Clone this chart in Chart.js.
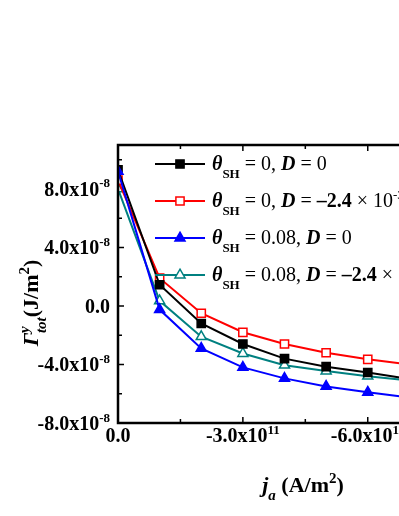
<!DOCTYPE html>
<html>
<head>
<meta charset="utf-8">
<script src="https://cdn.jsdelivr.net/npm/chart.js@4.4.1/dist/chart.umd.min.js"></script>
<style>
  html, body { margin: 0; padding: 0; background: #fff; overflow: hidden; }
  #wrap { position: absolute; left: 0; top: 0; width: 480px; height: 516px; }
</style>
</head>
<body>
<div id="wrap"><canvas id="chart" width="480" height="516"></canvas></div>
<script>
// current density j_a (A/m^2)
const currents = [0, -1e11, -2e11, -3e11, -4e11, -5e11, -6e11, -7e11];
// total torque Gamma^y_tot (J/m^2)
const torqueNoSHNoD   = [9.3e-8, 1.45e-8, -1.2e-8, -2.6e-8, -3.6e-8, -4.15e-8, -4.55e-8, -5.0e-8];
const torqueNoSHWithD = [8.6e-8, 1.9e-8, -0.5e-8, -1.8e-8, -2.6e-8, -3.2e-8, -3.65e-8, -4.0e-8];
const torqueSHNoD     = [9.2e-8, -0.25e-8, -2.9e-8, -4.2e-8, -4.95e-8, -5.5e-8, -5.9e-8, -6.25e-8];
const torqueSHWithD   = [8.0e-8, 0.35e-8, -2.1e-8, -3.25e-8, -4.05e-8, -4.45e-8, -4.8e-8, -5.1e-8];

const xTickValues = [0, -3e11, -6e11];
const xTickLabels = ['0.0', '-3.0x10^11', '-6.0x10^11'];
const xMinorTicks = [-1.5e11, -4.5e11, -7.5e11];
const yTickValues = [8e-8, 4e-8, 0, -4e-8, -8e-8];
const yTickLabels = ['8.0x10^-8', '4.0x10^-8', '0.0', '-4.0x10^-8', '-8.0x10^-8'];
const yMinorTicks = [1e-7, 6e-8, 2e-8, -2e-8, -6e-8];

// rich text pieces: [text, style]
const legendLabels = [
  [['θ', 'bi'], ['SH', 'sub'], [' = 0, ', 'r'], ['D', 'bi'], [' = 0', 'r']],
  [['θ', 'bi'], ['SH', 'sub'], [' = 0, ', 'r'], ['D', 'bi'], [' = ', 'r'], ['–2.4', 'b'], [' × 10', 'r'], ['-3', 'sup']],
  [['θ', 'bi'], ['SH', 'sub'], [' = 0.08, ', 'r'], ['D', 'bi'], [' = 0', 'r']],
  [['θ', 'bi'], ['SH', 'sub'], [' = 0.08, ', 'r'], ['D', 'bi'], [' = ', 'r'], ['–2.4', 'b'], [' × 10', 'r'], ['-3', 'sup']]
];
const xTitle = [['j', 'bi'], ['a', 'subi'], [' (A/m', 'b'], ['2', 'supb'], [')', 'b']];
const yTitle = [['Γ', 'bi'], ['y', 'supi0'], ['tot', 'subi'], ['(J/m', 'b'], ['2', 'supb'], [')', 'b']];

const FAMILY = '"Liberation Serif", "Times New Roman", serif';

function styleFor(kind, size) {
  const small = Math.round(size * 0.66);
  switch (kind) {
    case 'r': return { font: `${size}px ${FAMILY}`, dy: 0 };
    case 'b': return { font: `bold ${size}px ${FAMILY}`, dy: 0 };
    case 'bi': return { font: `italic bold ${size}px ${FAMILY}`, dy: 0 };
    case 'sub': return { font: `bold ${small}px ${FAMILY}`, dy: size * 0.38 };
    case 'subi': return { font: `italic bold ${small}px ${FAMILY}`, dy: size * 0.36 };
    case 'sup': return { font: `${small}px ${FAMILY}`, dy: -size * 0.42 };
    case 'supb': return { font: `bold ${small}px ${FAMILY}`, dy: -size * 0.42 };
    case 'supi0': return { font: `italic bold ${small}px ${FAMILY}`, dy: -size * 0.42, noAdvance: true };
  }
  return { font: `${size}px ${FAMILY}`, dy: 0 };
}

function drawRich(ctx, parts, x, y, align, size) {
  let total = 0;
  const measured = parts.map(([t, kind]) => {
    const st = styleFor(kind, size);
    ctx.font = st.font;
    const w = ctx.measureText(t).width;
    total += st.noAdvance ? 0 : w;
    return { t, st, w };
  });
  let cx = x;
  if (align === 'center') cx = x - total / 2;
  if (align === 'right') cx = x - total;
  ctx.textAlign = 'left';
  ctx.textBaseline = 'alphabetic';
  measured.forEach(m => {
    ctx.font = m.st.font;
    ctx.fillText(m.t, cx, y + m.st.dy);
    if (!m.st.noAdvance) cx += m.w;
  });
}

function tickParts(label) {
  const i = label.indexOf('^');
  if (i < 0) return [[label, 'b']];
  return [[label.slice(0, i), 'b'], [label.slice(i + 1), 'supb']];
}

function drawMarker(ctx, ds, x, y) {
  const r = ds.pointRadius;
  ctx.save();
  ctx.beginPath();
  if (ds.pointStyle === 'rect') {
    const s = r * Math.SQRT1_2;
    ctx.rect(x - s, y - s, 2 * s, 2 * s);
  } else {
    ctx.moveTo(x, y - r);
    ctx.lineTo(x + r * 0.866, y + r * 0.5);
    ctx.lineTo(x - r * 0.866, y + r * 0.5);
    ctx.closePath();
  }
  ctx.fillStyle = ds.pointBackgroundColor;
  ctx.fill();
  ctx.lineWidth = ds.pointBorderWidth;
  ctx.strokeStyle = ds.borderColor;
  ctx.stroke();
  ctx.restore();
}

const framePlugin = {
  id: 'frame',
  beforeDatasetsDraw(chart) {
    const { ctx, chartArea: a, scales: { x, y } } = chart;
    ctx.save();
    ctx.strokeStyle = '#000';
    ctx.lineWidth = 1.5;
    ctx.beginPath();
    xTickValues.concat(xMinorTicks).forEach((v, i) => {
      const len = i < xTickValues.length ? 6 : 4;
      const px = x.getPixelForValue(v);
      ctx.moveTo(px, a.bottom); ctx.lineTo(px, a.bottom - len);
      ctx.moveTo(px, a.top); ctx.lineTo(px, a.top + len);
    });
    yTickValues.concat(yMinorTicks).forEach((v, i) => {
      const len = i < yTickValues.length ? 6 : 4;
      const py = y.getPixelForValue(v);
      ctx.moveTo(a.left, py); ctx.lineTo(a.left + len, py);
      ctx.moveTo(a.right, py); ctx.lineTo(a.right - len, py);
    });
    ctx.stroke();
    ctx.restore();
  },
  afterDatasetsDraw(chart) {
    const { ctx, chartArea: a } = chart;
    ctx.save();
    ctx.strokeStyle = '#000';
    ctx.lineWidth = 2.5;
    ctx.strokeRect(a.left, a.top, a.right - a.left, a.bottom - a.top);
    ctx.restore();
  },
  afterDraw(chart) {
    const { ctx, chartArea: a, scales: { x, y } } = chart;
    ctx.save();
    ctx.fillStyle = '#000';
    xTickValues.forEach((v, i) => {
      drawRich(ctx, tickParts(xTickLabels[i]), x.getPixelForValue(v), a.bottom + 19, 'center', 20);
    });
    yTickValues.forEach((v, i) => {
      drawRich(ctx, tickParts(yTickLabels[i]), a.left - 8, y.getPixelForValue(v) + 7, 'right', 20);
    });
    drawRich(ctx, xTitle, a.left + 185, a.bottom + 69, 'center', 22);
    ctx.save();
    ctx.translate(38, a.top + 158);
    ctx.rotate(-Math.PI / 2);
    drawRich(ctx, yTitle, 0, 0, 'center', 22);
    ctx.restore();

    // legend
    const lx = a.left + 37, ly = a.top + 19, rowH = 37;
    chart.data.datasets.forEach((ds, i) => {
      const cy = ly + i * rowH;
      ctx.save();
      ctx.strokeStyle = ds.borderColor;
      ctx.lineWidth = ds.borderWidth;
      ctx.beginPath();
      ctx.moveTo(lx, cy); ctx.lineTo(lx + 50, cy);
      ctx.stroke();
      ctx.restore();
      drawMarker(ctx, ds, lx + 25, cy);
      ctx.fillStyle = '#000';
      drawRich(ctx, legendLabels[i], lx + 57, cy + 6, 'left', 20);
    });
    ctx.restore();
  }
};

function makeSet(values, color, style, fill, order) {
  return {
    data: currents.map((c, i) => ({ x: c, y: values[i] })),
    borderColor: color,
    borderWidth: 2,
    pointStyle: style,
    pointRadius: 5.8,
    pointHoverRadius: 5.8,
    pointBorderWidth: 1.5,
    pointBackgroundColor: fill,
    pointBorderColor: color,
    tension: 0,
    order: order,
    clip: { left: 0, top: 10, right: 10, bottom: 10 }
  };
}

new Chart(document.getElementById('chart'), {
  type: 'line',
  data: {
    datasets: [
      makeSet(torqueNoSHNoD, '#000000', 'rect', '#000000', 1),
      makeSet(torqueNoSHWithD, '#ff0000', 'rect', '#ffffff', 2),
      makeSet(torqueSHNoD, '#0000ff', 'triangle', '#0000ff', 0),
      makeSet(torqueSHWithD, '#008080', 'triangle', '#ffffff', 3)
    ]
  },
  options: {
    responsive: false,
    devicePixelRatio: 1,
    animation: false,
    events: [],
    layout: { padding: { left: 118, top: 145, right: 29, bottom: 93 } },
    plugins: { legend: { display: false }, tooltip: { enabled: false } },
    scales: {
      x: {
        type: 'linear', reverse: true, min: -8e11, max: 0,
        grid: { display: false, drawTicks: false }, border: { display: false },
        ticks: { display: false }
      },
      y: {
        type: 'linear', min: -8e-8, max: 1.1e-7,
        grid: { display: false, drawTicks: false }, border: { display: false },
        ticks: { display: false }
      }
    }
  },
  plugins: [framePlugin]
});
</script>
</body>
</html>
